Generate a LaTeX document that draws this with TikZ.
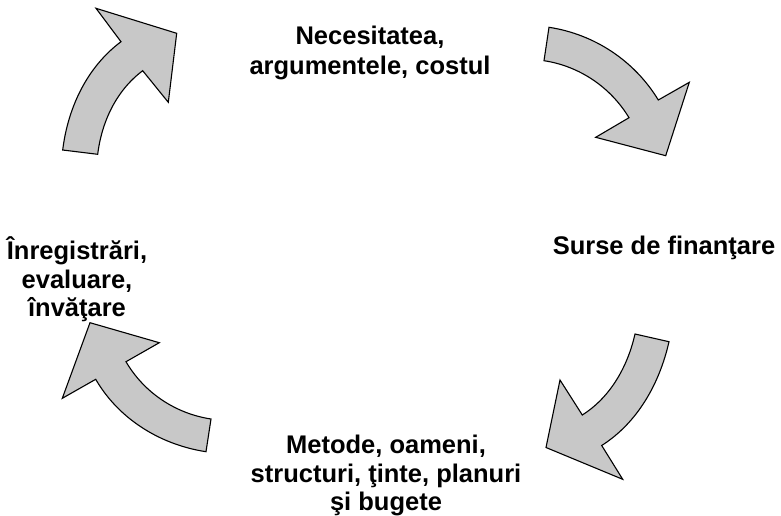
\documentclass[tikz,border=0pt]{standalone}
\usepackage{fontspec}
\setmainfont{Liberation Sans}
\definecolor{arrowgray}{RGB}{200,200,200}
\begin{document}
\begin{tikzpicture}[x=1pt,y=-1pt,
  cyclearrow/.style={draw=black,fill=arrowgray,line width=1.1pt,line join=miter},
  label/.style={font=\fontsize{25.5}{28.5}\selectfont\bfseries,align=center,inner sep=0pt}]
\useasboundingbox (0,0) rectangle (781,515);
% top-left arrow
\path[cyclearrow] (62.7,150) .. controls (67.9,107.7) and (86.9,67.2) .. (121,41.7)
  -- (96,8.3) -- (176.7,33.3) -- (168.3,102.3) -- (142.7,70.7)
  .. controls (116.4,90.4) and (101.7,121.6) .. (97.7,154.3) -- cycle;
% top-right arrow
\path[cyclearrow] (549,27.3) .. controls (594.4,34.2) and (634.5,60.8) .. (658.3,100)
  -- (689.3,82.3) -- (665.7,155.7) -- (595.7,137.3) -- (629,117.7)
  .. controls (610.5,87.1) and (579.4,66.1) .. (544,60.7) -- cycle;
% bottom-right arrow
\path[cyclearrow] (669,341.7) .. controls (659.6,383.3) and (637.7,422.6) .. (601.7,445.5)
  -- (622.7,479.3) -- (546,447.5) -- (560,380) -- (582.3,415)
  .. controls (610.5,397.1) and (627.6,366.6) .. (635,334) -- cycle;
% bottom-left arrow
\path[cyclearrow] (206,451.7) .. controls (160.3,444.7) and (118.9,419.2) .. (95.7,379.3)
  -- (62.3,398.3) -- (90,322.7) -- (159.3,342.7) -- (126,361.7)
  .. controls (144.1,392.7) and (175.5,413.6) .. (211,419) -- cycle;
% labels
\node[label,anchor=north,font=\fontsize{25.5}{30}\selectfont\bfseries] (need) at (370,26) {Necesitatea,\\argumentele, costul};
\node[label,anchor=base] (funds) at (664,254.3) {Surse de finanţare};
\node[label,anchor=north] (means) at (386,435) {Metode, oameni,\\structuri, ţinte, planuri\\şi bugete};
\node[label,anchor=north] (records) at (77,236.7) {Înregistrări,\\evaluare,\\învăţare};
\end{tikzpicture}
\end{document}
